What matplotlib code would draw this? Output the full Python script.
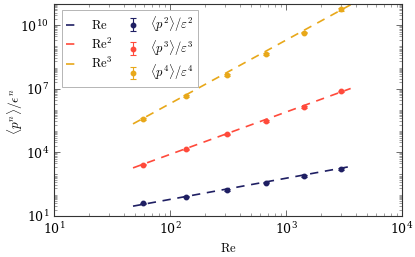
import numpy as np
import matplotlib
matplotlib.use("Agg")
import matplotlib.pyplot as plt
from matplotlib.ticker import LogLocator, NullFormatter

plt.rcParams['mathtext.fontset'] = 'cm'
plt.rcParams['font.family'] = 'serif'
plt.rcParams['font.serif'] = ['DejaVu Serif']
plt.rcParams['font.size'] = 8

# data
re_vals = [58, 137, 308, 673, 1430, 2980]
p2 = [39, 80, 166, 364, 774, 1650]
p3 = [2650, 13800, 69800, 3.16e5, 1.43e6, 7.5e6]
p4 = [3.8e5, 4.4e6, 4.5e7, 4.5e8, 4.56e9, 5.6e10]
p2_err = [3, 6, 12, 25, 55, 120]
p3_err = [250, 1300, 6500, 3e4, 1.4e5, 7.5e5]
p4_err = [4e4, 4.5e5, 4.5e6, 4.5e7, 4.5e8, 1.1e10]

fit_re = [48, 3600]
fit_coef = [0.6, 0.8, 2.0]

navy = "#1f1f63"
red = "#ff4a3b"
yellow = "#e8a81a"
colors = [navy, red, yellow]

fig = plt.figure(figsize=(4.15, 2.57), dpi=100)
ax = fig.add_axes([0.130, 0.160, 0.839, 0.824])

x_fit = np.array(fit_re, dtype=float)
line_labels = [r'$\mathrm{Re}$', r'$\mathrm{Re}^2$', r'$\mathrm{Re}^3$']
lines = []
for n, (c, col, lab) in enumerate(zip(fit_coef, colors, line_labels), start=1):
    l, = ax.plot(x_fit, c * x_fit ** n, color=col, linestyle=(0, (5, 4)), linewidth=1.2, label=lab)
    lines.append(l)

pt_labels = [r'$\langle p^2\rangle/\varepsilon^2$', r'$\langle p^3\rangle/\varepsilon^3$',
             r'$\langle p^4\rangle/\varepsilon^4$']
ebs = []
for ys, es, col, lab in zip([p2, p3, p4], [p2_err, p3_err, p4_err], colors, pt_labels):
    eb = ax.errorbar(re_vals, ys, yerr=es, fmt='o', color=col, markersize=3.2,
                     capsize=2.5, elinewidth=0.8, capthick=0.8, label=lab)
    ebs.append(eb)

ax.set_xscale('log')
ax.set_yscale('log')
ax.set_xlim(10, 1e4)
ax.set_ylim(10, 1e11)
ax.set_yticks([1e1, 1e4, 1e7, 1e10])
ax.yaxis.set_minor_locator(LogLocator(base=10, subs=np.arange(1, 10), numticks=100))
ax.yaxis.set_minor_formatter(NullFormatter())
ax.xaxis.set_minor_locator(LogLocator(base=10, subs=np.arange(2, 10), numticks=100))
ax.xaxis.set_minor_formatter(NullFormatter())

ax.tick_params(which='both', direction='in', top=True, right=True, labelsize=9)
ax.tick_params(which='major', length=4, width=0.6, color='#555555')
ax.tick_params(which='minor', length=2, width=0.5, color='#777777')
for s in ax.spines.values():
    s.set_linewidth(0.8)
    s.set_color('#333333')

ax.set_xlabel(r'$\mathrm{Re}$', fontsize=9)
ax.set_ylabel(r'$\langle p^n\rangle/\epsilon^n$', fontsize=9.5)
ax.yaxis.set_label_coords(-0.083, 0.49)

leg = ax.legend(handles=lines + ebs, ncol=2, loc='upper left', fontsize=9,
                fancybox=False, edgecolor='#aaaaaa', framealpha=1,
                handlelength=1.2, columnspacing=1.0, borderpad=0.35,
                labelspacing=0.35, borderaxespad=0,
                bbox_to_anchor=(0.023, 0.972))
leg.get_frame().set_linewidth(0.6)

fig.savefig('out.png', dpi=100)
